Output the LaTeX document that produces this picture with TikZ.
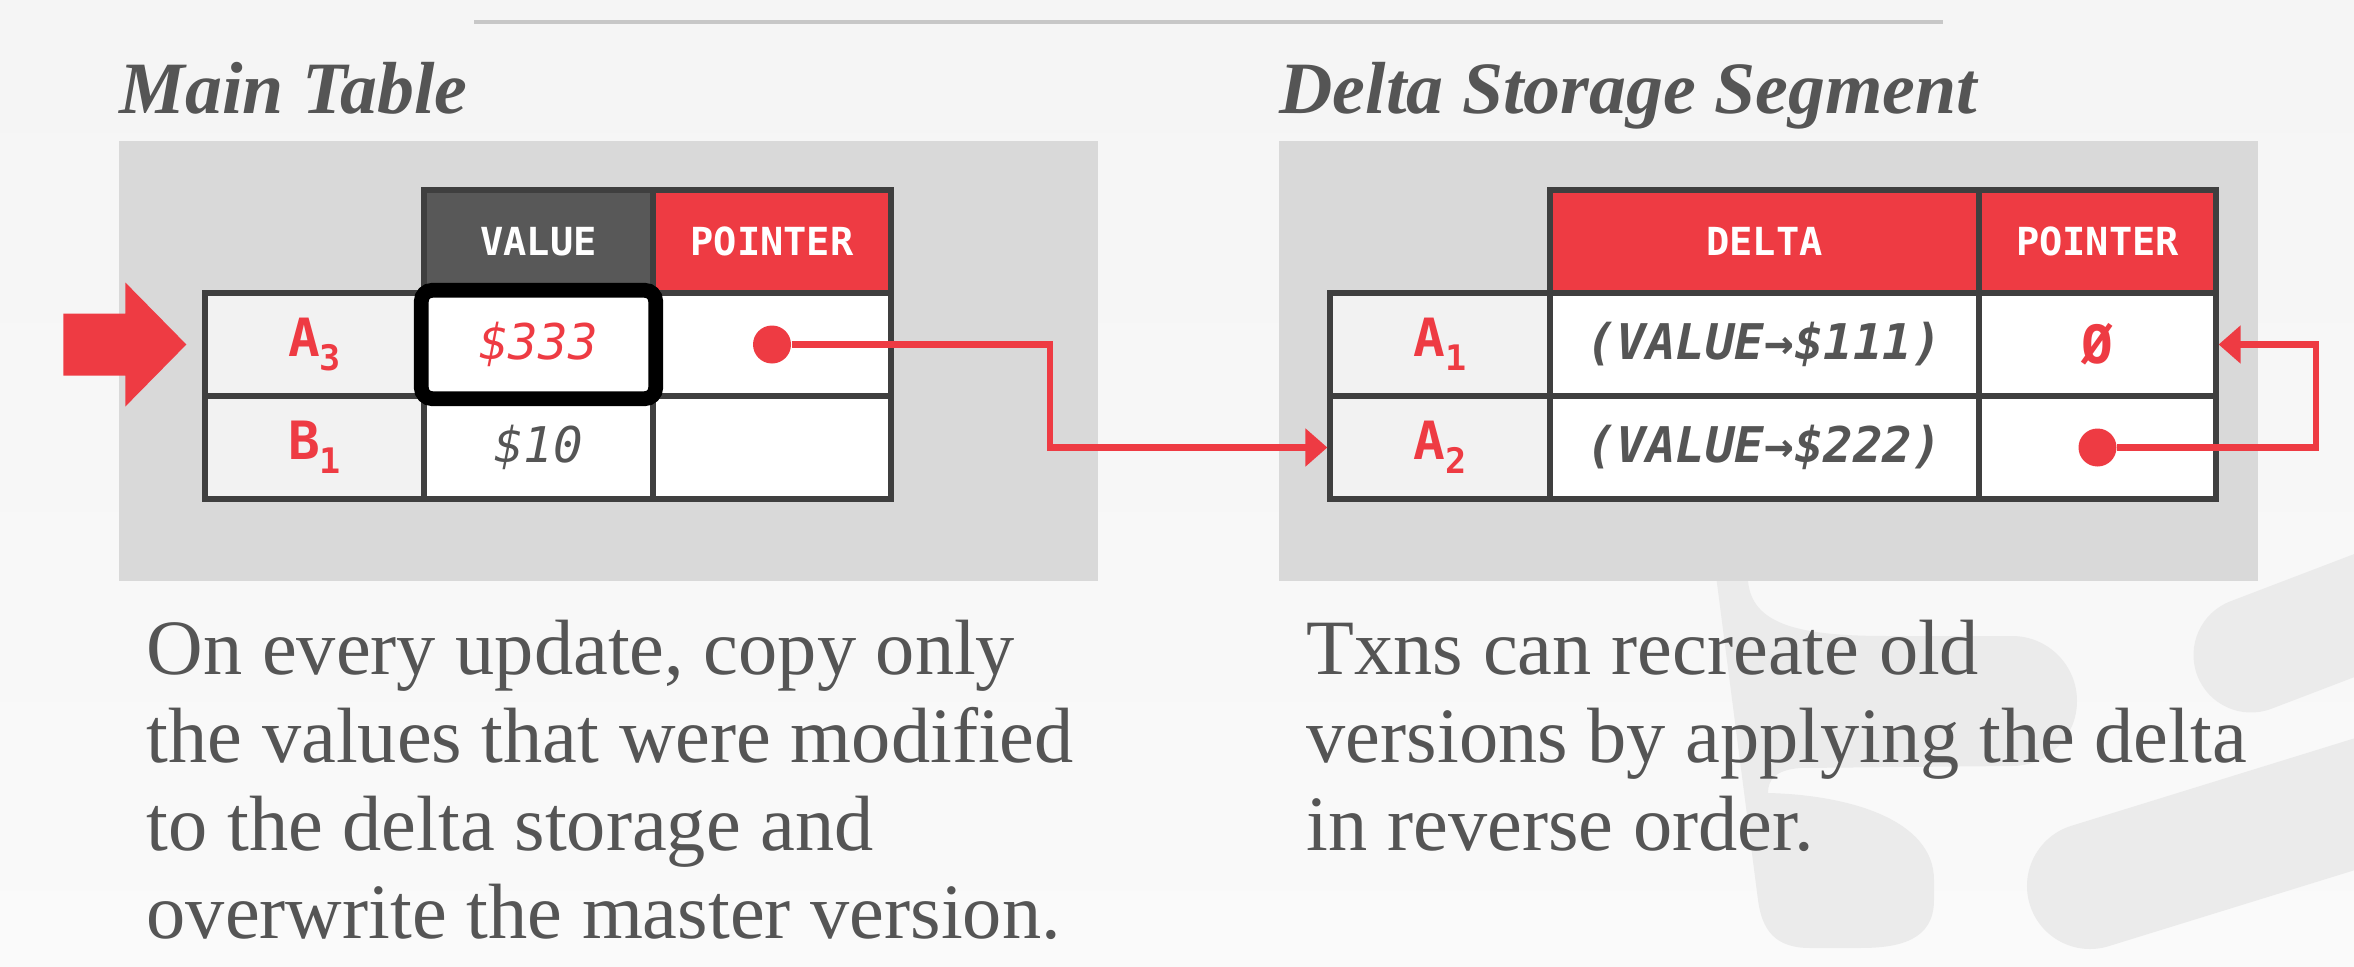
\documentclass[tikz,border=0pt]{standalone}
\usepackage{fontspec}
\setmainfont{Liberation Serif}
\newfontfamily\monofont{DejaVu Sans Mono}
\usetikzlibrary{arrows.meta}
\definecolor{mred}{HTML}{EE3B43}
\definecolor{hdark}{HTML}{585858}
\definecolor{tline}{HTML}{3F3F3F}
\definecolor{txt}{HTML}{555555}
\definecolor{panel}{HTML}{D9D9D9}
\definecolor{keybg}{HTML}{F2F2F2}
\definecolor{wmark}{HTML}{EBEBEB}
\newcommand{\ksub}[1]{\raisebox{-0.14cm}{\fontsize{10}{10}\selectfont #1}}

\begin{document}
\begin{tikzpicture}[
  cell/.style={draw=tline, line width=1.5pt, fill=white, minimum height=1.03cm,
    inner sep=0pt, text=txt, font=\monofont\itshape\fontsize{14}{14}\selectfont},
  keycell/.style={cell, fill=keybg, text=mred, font=\monofont\bfseries\fontsize{15}{15}\selectfont},
  deltacell/.style={cell, font=\monofont\bfseries\itshape\fontsize{14}{14}\selectfont},
  hdcell/.style={cell, fill=#1, text=white, font=\monofont\bfseries\fontsize{11}{11}\selectfont},
  dot/.style={circle, fill=mred, minimum size=0.38cm, inner sep=0pt},
  link/.style={mred, line width=1.9pt, -{Triangle[length=0.22cm, width=0.37cm]}},
  title/.style={anchor=base west, inner sep=0pt, text=txt, font=\bfseries\itshape\fontsize{21}{21}\selectfont},
  body/.style={anchor=base west, inner sep=0pt, align=left, text=txt, font=\fontsize{22.3}{25}\selectfont}]
  \clip (0,0) rectangle (23.54,9.66);
  \shade[top color=black!4, bottom color=black!2] (0,0) rectangle (23.54,9.66);
  % faint logo in the corner
  \fill[wmark] (17.14,4.06) -- (17.48,4.06) -- (17.48,3.85)
    .. controls (17.52,3.41) and (18.00,3.30) .. (18.87,3.30) -- (20.12,3.30)
    arc[start angle=90, end angle=-90, radius=0.65] -- (18.00,1.98)
    .. controls (17.75,1.96) and (17.68,1.86) .. (17.68,1.73)
    .. controls (18.50,1.71) and (19.34,1.46) .. (19.34,0.86) -- (19.34,0.66)
    .. controls (19.34,0.26) and (19.00,0.18) .. (18.60,0.18) -- (18.10,0.18)
    .. controls (17.75,0.18) and (17.62,0.36) .. (17.58,0.66) -- cycle;
  \draw[wmark, line width=1.15cm, line cap=round] (22.51,3.11) -- (24.50,3.87);
  \draw[wmark, line width=1.26cm, line cap=round] (20.90,0.80) -- (24.20,1.82);

  \draw[black!22, line width=0.04cm] (4.74,9.44) -- (19.43,9.44);
  \node[title] (tmain) at (1.19,8.52) {Main Table};
  \node[title] (tdelta) at (12.79,8.52) {Delta Storage Segment};
  \fill[panel] (1.19,8.25) rectangle (10.98,3.85);
  \fill[panel] (12.79,8.25) rectangle (22.58,3.85);

  \node[hdcell=hdark, minimum width=2.29cm] (hval) at (5.385,7.245) {VALUE};
  \node[hdcell=mred, minimum width=2.38cm] (hptr) at (7.72,7.245) {POINTER};
  \node[keycell, minimum width=2.19cm] (a3) at (3.145,6.215) {A\ksub{3}};
  \node[cell, minimum width=2.29cm, text=mred] (v1) at (5.385,6.215) {\$333};
  \node[cell, minimum width=2.38cm] (p1) at (7.72,6.215) {};
  \node[keycell, minimum width=2.19cm] (b1) at (3.145,5.185) {B\ksub{1}};
  \node[cell, minimum width=2.29cm] (v2) at (5.385,5.185) {\$10};
  \node[cell, minimum width=2.38cm] (p2) at (7.72,5.185) {};
  \draw[black, line width=4.2pt, rounded corners=3pt] (v1.north west) rectangle (v1.south east);
  \fill[mred, shift={(a3.west)}] (-1.39,0.31) -- (-0.77,0.31) -- (-0.77,0.62) -- (-0.16,0)
    -- (-0.77,-0.62) -- (-0.77,-0.31) -- (-1.39,-0.31) -- cycle;

  \node[hdcell=mred, minimum width=4.29cm] (hdelta) at (17.645,7.245) {DELTA};
  \node[hdcell=mred, minimum width=2.37cm] (hptr2) at (20.975,7.245) {POINTER};
  \node[keycell, minimum width=2.20cm] (a1) at (14.40,6.215) {A\ksub{1}};
  \node[deltacell, minimum width=4.29cm] (d1) at (17.645,6.215) {(VALUE→\$111)};
  \node[cell, minimum width=2.37cm, text=mred, font=\monofont\bfseries\fontsize{15}{15}\selectfont] (q1) at (20.975,6.215) {Ø};
  \node[keycell, minimum width=2.20cm] (a2) at (14.40,5.185) {A\ksub{2}};
  \node[deltacell, minimum width=4.29cm] (d2) at (17.645,5.185) {(VALUE→\$222)};
  \node[cell, minimum width=2.37cm] (q2) at (20.975,5.185) {};

  \node[dot] (dot1) at (p1) {};
  \node[dot] (dot2) at (q2) {};
  \coordinate (bend1) at (10.50,6.215);
  \coordinate (bend2) at (23.16,5.185);
  \draw[link] (dot1) -- (bend1) |- (a2.west);
  \draw[link] (dot2) -- (bend2) |- (q1.east);

  \node[body] (nleft) at (1.46,0.28) {On every update, copy only\\the values that were modified\\to the delta storage and\\overwrite the master version.};
  \node[body] (nright) at (13.06,1.16) {Txns can recreate old\\versions by applying the delta\\in reverse order.};
\end{tikzpicture}
\end{document}
